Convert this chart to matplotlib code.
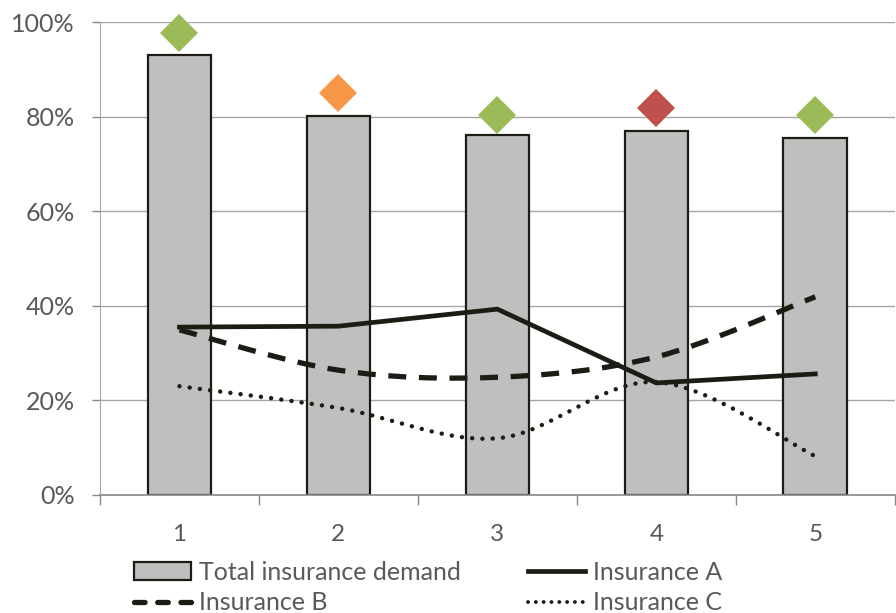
import numpy as np
import matplotlib
matplotlib.use('Agg')
import matplotlib.pyplot as plt
from matplotlib.path import Path
from matplotlib.patches import PathPatch
from matplotlib.lines import Line2D
from matplotlib.ticker import PercentFormatter

groups = [1, 2, 3, 4, 5]
total_demand = [0.930, 0.801, 0.761, 0.770, 0.755]
marker_level = [0.977, 0.850, 0.803, 0.818, 0.803]
marker_colors = ['#9BBB59', '#F79646', '#9BBB59', '#C0504D', '#9BBB59']
insurance_a = [0.355, 0.357, 0.393, 0.237, 0.256]
insurance_b = [0.349, 0.264, 0.249, 0.292, 0.419]
insurance_c = [0.230, 0.184, 0.120, 0.239, 0.082]

plt.rcParams['font.family'] = ['Lato', 'DejaVu Sans']


def smooth_path(x, y, k=1 / 6):
    # cubic bezier through the points (catmull-rom style handles)
    x = np.asarray(x, float)
    y = np.asarray(y, float)
    verts = [(x[0], y[0])]
    codes = [Path.MOVETO]
    n = len(x)
    for i in range(n - 1):
        p0 = (x[max(i - 1, 0)], y[max(i - 1, 0)])
        p1 = (x[i], y[i])
        p2 = (x[i + 1], y[i + 1])
        p3 = (x[min(i + 2, n - 1)], y[min(i + 2, n - 1)])
        c1 = (p1[0] + k * (p2[0] - p0[0]), p1[1] + k * (p2[1] - p0[1]))
        c2 = (p2[0] - k * (p3[0] - p1[0]), p2[1] - k * (p3[1] - p1[1]))
        verts += [c1, c2, p2]
        codes += [Path.CURVE4] * 3
    return Path(verts, codes)


fig = plt.figure(figsize=(8.96, 6.13), dpi=100)
ax = fig.add_axes([0.1116, 0.1925, 0.887, 0.7715])

line_col = '#1c1c14'
dash_b = (0, (3.4, 2.4))
dots_c = (0, (0.01, 2.3))

ax.bar(groups, total_demand, width=0.4, color='#BFBFBF', edgecolor=line_col,
       linewidth=1.6, zorder=2)
for g, v, c in zip(groups, marker_level, marker_colors):
    ax.plot(g, v, marker='D', markersize=19, color=c, markeredgewidth=0,
            linestyle='none', zorder=4, clip_on=False)

ax.plot(groups, insurance_a, color=line_col, linewidth=3.4,
        solid_joinstyle='miter', zorder=3)
ax.add_patch(PathPatch(smooth_path(groups, insurance_b), fill=False,
                       edgecolor=line_col, linewidth=3.8, linestyle=dash_b,
                       capstyle='butt', zorder=3))
ax.add_patch(PathPatch(smooth_path(groups, insurance_c), fill=False,
                       edgecolor=line_col, linewidth=3.2, linestyle=dots_c,
                       capstyle='round', zorder=3))

ax.set_xlim(0.5, 5.5)
ax.set_ylim(0, 1.0)
ax.set_yticks(np.arange(0, 1.01, 0.2))
ax.yaxis.set_major_formatter(PercentFormatter(1.0, decimals=0))
ax.set_xticks(groups)
ax.set_xticks(np.arange(0.5, 5.6, 1), minor=True)
ax.tick_params(axis='x', which='major', length=0, pad=21, labelsize=17.5,
               labelcolor='#595959')
ax.tick_params(axis='x', which='minor', length=7, width=1, color='#888888',
               direction='out')
ax.tick_params(axis='y', length=6, width=1, color='#888888', pad=12,
               labelsize=18, labelcolor='#595959')
ax.grid(axis='y', color='#A6A6A6', linewidth=1, zorder=0)
ax.set_axisbelow(True)
for s in ['top', 'right']:
    ax.spines[s].set_visible(False)
ax.spines['left'].set_color('#A6A6A6')
ax.spines['bottom'].set_color('#888888')
ax.spines['bottom'].set_linewidth(1.2)

handles = [
    plt.Rectangle((0, 0), 1, 1, facecolor='#BFBFBF', edgecolor=line_col, linewidth=1.6),
    Line2D([], [], color=line_col, linewidth=3.8, linestyle=(0, (2.0, 2.4)),
           dash_capstyle='round'),
    Line2D([], [], color=line_col, linewidth=3.4),
    Line2D([], [], color=line_col, linewidth=2.8, linestyle=(0, (0.01, 2.0)),
           dash_capstyle='round'),
]
labels = ['Total insurance demand', 'Insurance B', 'Insurance A', 'Insurance C']
leg = fig.legend(handles, labels, ncol=2, loc='upper left',
                 bbox_to_anchor=(0.149, 0.085), frameon=False, fontsize=18,
                 handlelength=2.3, handletextpad=0.3, columnspacing=2.7,
                 labelspacing=0.3, borderpad=0, borderaxespad=0)
for t in leg.get_texts():
    t.set_color('#595959')

fig.savefig('out.png', dpi=100)
